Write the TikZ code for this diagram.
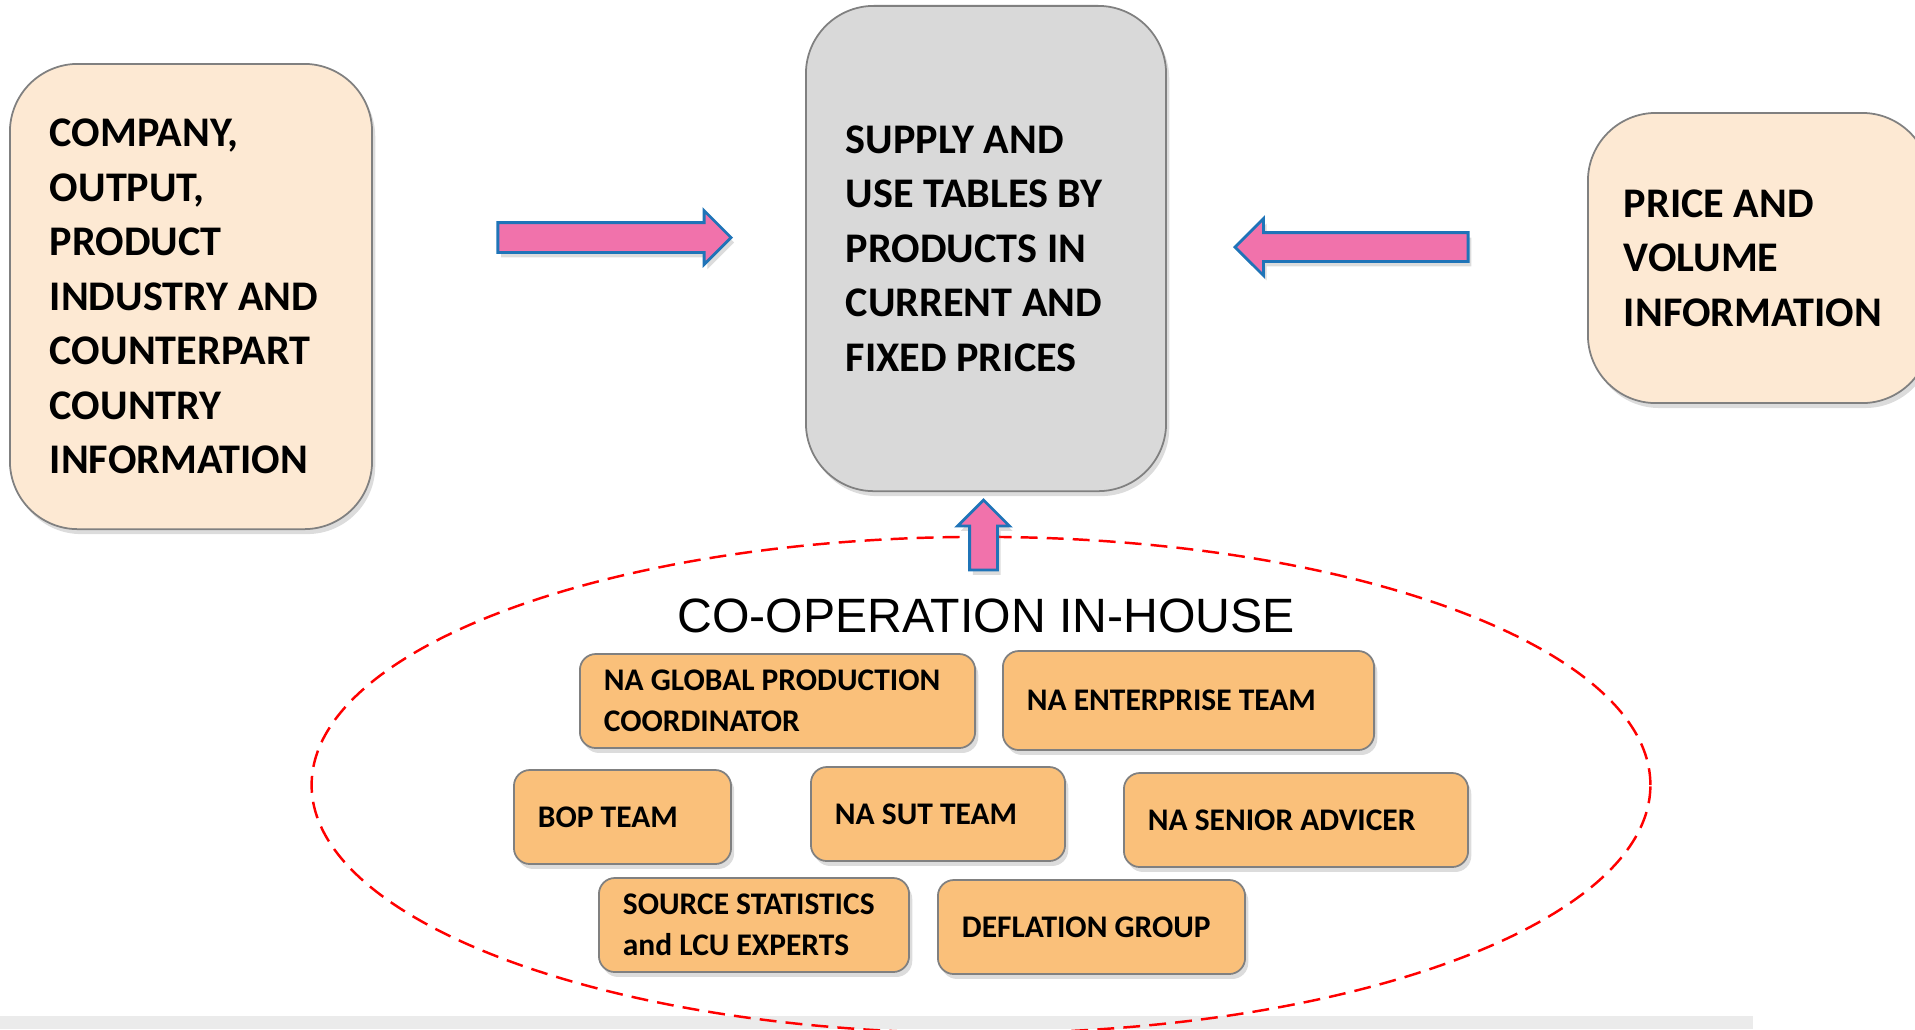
\documentclass[tikz,border=0pt]{standalone}
\usepackage{fontspec}
\setmainfont{Carlito}
\newfontfamily\headfont{Liberation Sans}
\usetikzlibrary{shapes.geometric,shapes.arrows,shadows}
\definecolor{peach}{RGB}{253,233,211}
\definecolor{boxgray}{RGB}{217,217,217}
\definecolor{teamorange}{RGB}{250,192,122}
\definecolor{arrowpink}{RGB}{241,114,171}
\definecolor{arrowblue}{RGB}{31,116,184}
\definecolor{edgegray}{RGB}{128,128,128}
\definecolor{barcolor}{RGB}{235,235,235}

\begin{document}
\begin{tikzpicture}[x=0.01cm, y=-0.01cm,
    softshadow/.style={drop shadow={opacity=0.28, shadow xshift=0.9pt, shadow yshift=-1.4pt}},
    infobox/.style={draw=edgegray, line width=0.5pt, rounded corners=0.68cm, softshadow,
        inner xsep=0.4cm, align=flush left, font=\fontsize{12pt}{15.5pt}\selectfont\bfseries},
    teambox/.style={draw=edgegray, line width=0.5pt, rounded corners=0.16cm, fill=teamorange,
        softshadow, minimum height=0.94cm, inner xsep=0.24cm, align=flush left,
        font=\fontsize{8.95pt}{11.7pt}\selectfont\bfseries},
    blockarrow/.style={single arrow, draw=arrowblue, line width=0.8pt, fill=arrowpink,
        softshadow, single arrow head indent=0pt, anchor=tip}]
    \useasboundingbox (0,0) rectangle (1915,1029);
    \fill[barcolor] (0,1016) rectangle (1753,1029);
    \node[ellipse, draw=red, line width=0.7pt, dash pattern=on 4.8pt off 2.6pt, inner sep=0pt,
          minimum width=13.38cm, minimum height=4.96cm] (coop) at (981,785) {};

    \node[infobox, fill=peach, minimum width=3.62cm, minimum height=4.65cm, text width=2.82cm]
          (firms) at (191,296.5) {COMPANY,\\OUTPUT,\\PRODUCT\\INDUSTRY AND\\COUNTERPART\\COUNTRY\\INFORMATION};
    \node[infobox, fill=boxgray, minimum width=3.6cm, minimum height=4.85cm, text width=2.8cm]
          (sut) at (986,248.5) {SUPPLY AND\\USE TABLES BY\\PRODUCTS IN\\CURRENT AND\\FIXED PRICES};
    \node[infobox, fill=peach, inner xsep=0.36cm, minimum width=3.42cm, minimum height=2.9cm, text width=2.7cm]
          (prices) at (1759,258) {PRICE AND\\VOLUME\\INFORMATION};

    \node[blockarrow, inner sep=0.135cm, minimum height=2.33cm, minimum width=0.51cm,
          single arrow head extend=0.12cm] (firmsToSut) at (733,237.5) {};
    \node[blockarrow, shape border rotate=180, inner sep=0.13cm, minimum height=2.33cm, minimum width=0.54cm,
          single arrow head extend=0.14cm] (pricesToSut) at (1233,247) {};
    \node[blockarrow, shape border rotate=90, inner sep=0.125cm, minimum height=0.70cm, minimum width=0.49cm,
          single arrow head extend=0.12cm] (coopToSut) at (983.5,498) {};

    \node[font=\headfont\fontsize{13.7pt}{16pt}\selectfont, anchor=base] (cooptitle) at (986,632)
          {CO-OPERATION IN-HOUSE};

    \node[teambox, minimum width=3.95cm, text width=3.47cm] (globprod) at (777.5,701)
          {NA GLOBAL PRODUCTION\\COORDINATOR};
    \node[teambox, minimum width=3.71cm, minimum height=0.99cm, text width=3.23cm] (enterprise) at (1188.5,700.5)
          {NA ENTERPRISE TEAM};
    \node[teambox, minimum width=2.17cm, text width=1.69cm] (bop) at (622.5,817) {BOP TEAM};
    \node[teambox, minimum width=2.54cm, text width=2.06cm] (sutteam) at (938,814) {NA SUT TEAM};
    \node[teambox, minimum width=3.44cm, text width=2.96cm] (senior) at (1296,820) {NA SENIOR ADVICER};
    \node[teambox, minimum width=3.10cm, text width=2.62cm] (sources) at (754,925)
          {SOURCE STATISTICS\\and LCU EXPERTS};
    \node[teambox, minimum width=3.07cm, text width=2.59cm] (deflation) at (1091.5,927) {DEFLATION GROUP};
\end{tikzpicture}
\end{document}
